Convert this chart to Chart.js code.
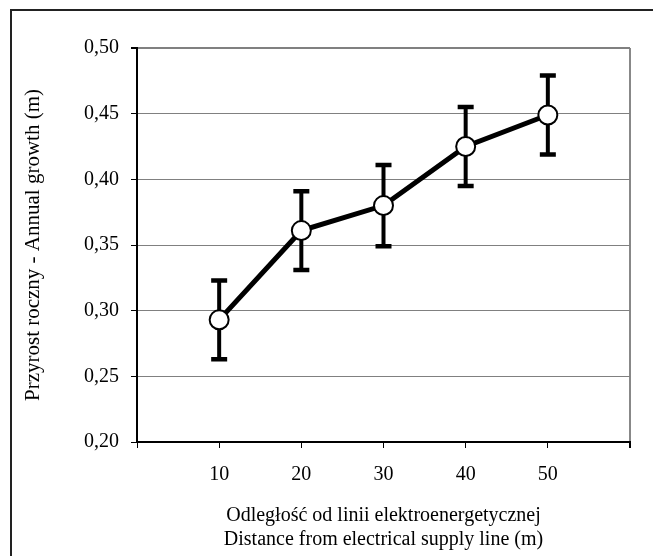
<!DOCTYPE html>
<html>
<head>
<meta charset="utf-8">
<script src="https://cdn.jsdelivr.net/npm/chart.js@4.4.1/dist/chart.umd.min.js"></script>
<style>
  html, body { margin: 0; padding: 0; background: #fff; overflow: hidden; }
  .wrap { position: relative; width: 653px; height: 556px; }
  .frame { position: absolute; left: 10px; top: 9px; width: 700px; height: 600px; border-left: 2px solid #222; border-top: 2px solid #222; }
  canvas { position: absolute; left: 0; top: 0; }
</style>
</head>
<body>
<div class="wrap">
  <div class="frame"></div>
  <canvas id="chart" width="653" height="556"></canvas>
</div>
<script>
// distances from the supply line (m)
const distances = [10, 20, 30, 40, 50];
// mean annual growth (m)
const growth = [0.293, 0.361, 0.380, 0.425, 0.449];
// error bar half-width (m)
const errors = [0.030, 0.030, 0.031, 0.030, 0.030];

const yTicks = [0.20, 0.25, 0.30, 0.35, 0.40, 0.45, 0.50];

const serif = 'Liberation Serif, Times New Roman, serif';

// draw the error bars behind line and markers
const errorBars = {
  id: 'errorBars',
  beforeDatasetsDraw(chart) {
    const { ctx, scales } = chart;
    const x = scales.x, y = scales.y;
    ctx.save();
    ctx.strokeStyle = '#000';
    ctx.lineWidth = 4;
    ctx.lineCap = 'butt';
    distances.forEach((d, i) => {
      const px = x.getPixelForValue(d);
      const top = y.getPixelForValue(growth[i] + errors[i]);
      const bot = y.getPixelForValue(growth[i] - errors[i]);
      ctx.beginPath();
      ctx.moveTo(px, top);
      ctx.lineTo(px, bot);
      ctx.stroke();
      ctx.lineWidth = 4.5;
      ctx.beginPath();
      ctx.moveTo(px - 8, top);
      ctx.lineTo(px + 8, top);
      ctx.moveTo(px - 8, bot);
      ctx.lineTo(px + 8, bot);
      ctx.stroke();
      ctx.lineWidth = 4;
    });
    ctx.restore();
  }
};

new Chart(document.getElementById('chart'), {
  type: 'line',
  data: {
    datasets: [{
      data: distances.map((d, i) => ({ x: d, y: growth[i] })),
      borderColor: '#000',
      borderWidth: 5,
      tension: 0,
      pointRadius: 9.5,
      pointBackgroundColor: '#fff',
      pointBorderColor: '#000',
      pointBorderWidth: 2
    }]
  },
  options: {
    responsive: false,
    animation: false,
    layout: { padding: { left: 10, top: 48, right: 23, bottom: 0 } },
    plugins: { legend: { display: false }, tooltip: { enabled: false } },
    scales: {
      x: {
        type: 'linear',
        min: 0,
        max: 60,
        afterFit(scale) { scale.height = 114; },
        afterBuildTicks(scale) { scale.ticks = [0, 10, 20, 30, 40, 50, 60].map(v => ({ value: v })); },
        ticks: {
          color: '#000',
          font: { family: serif, size: 20 },
          padding: 15,
          maxRotation: 0,
          callback: v => (v === 0 || v === 60) ? '' : String(v)
        },
        grid: {
          drawOnChartArea: true,
          color: ctx => ctx.tick && ctx.tick.value === 60 ? '#888' : 'rgba(0,0,0,0)',
          lineWidth: ctx => ctx.tick && ctx.tick.value === 60 ? 2 : 1,
          tickColor: '#000',
          tickLength: 6
        },
        border: { color: '#000', width: 2 },
        title: {
          display: true,
          text: ['Odległość od linii elektroenergetycznej', 'Distance from electrical supply line (m)'],
          color: '#000',
          font: { family: serif, size: 20, lineHeight: '24px' },
          padding: { bottom: 4 }
        }
      },
      y: {
        min: 0.20,
        max: 0.50,
        afterFit(scale) { scale.width = 127; },
        afterBuildTicks(scale) { scale.ticks = yTicks.map(v => ({ value: v })); },
        ticks: {
          color: '#000',
          font: { family: serif, size: 20 },
          padding: 12,
          callback: v => v.toFixed(2).replace('.', ',')
        },
        grid: {
          color: '#808080',
          lineWidth: ctx => ctx.tick && ctx.tick.value === 0.5 ? 2 : 1,
          tickColor: '#000',
          tickLength: 6
        },
        border: { color: '#000', width: 2 },
        title: {
          display: true,
          text: 'Przyrost roczny - Annual growth (m)',
          color: '#000',
          font: { family: serif, size: 21 },
          padding: { top: 11 }
        }
      }
    }
  },
  plugins: [errorBars]
});
</script>
</body>
</html>
